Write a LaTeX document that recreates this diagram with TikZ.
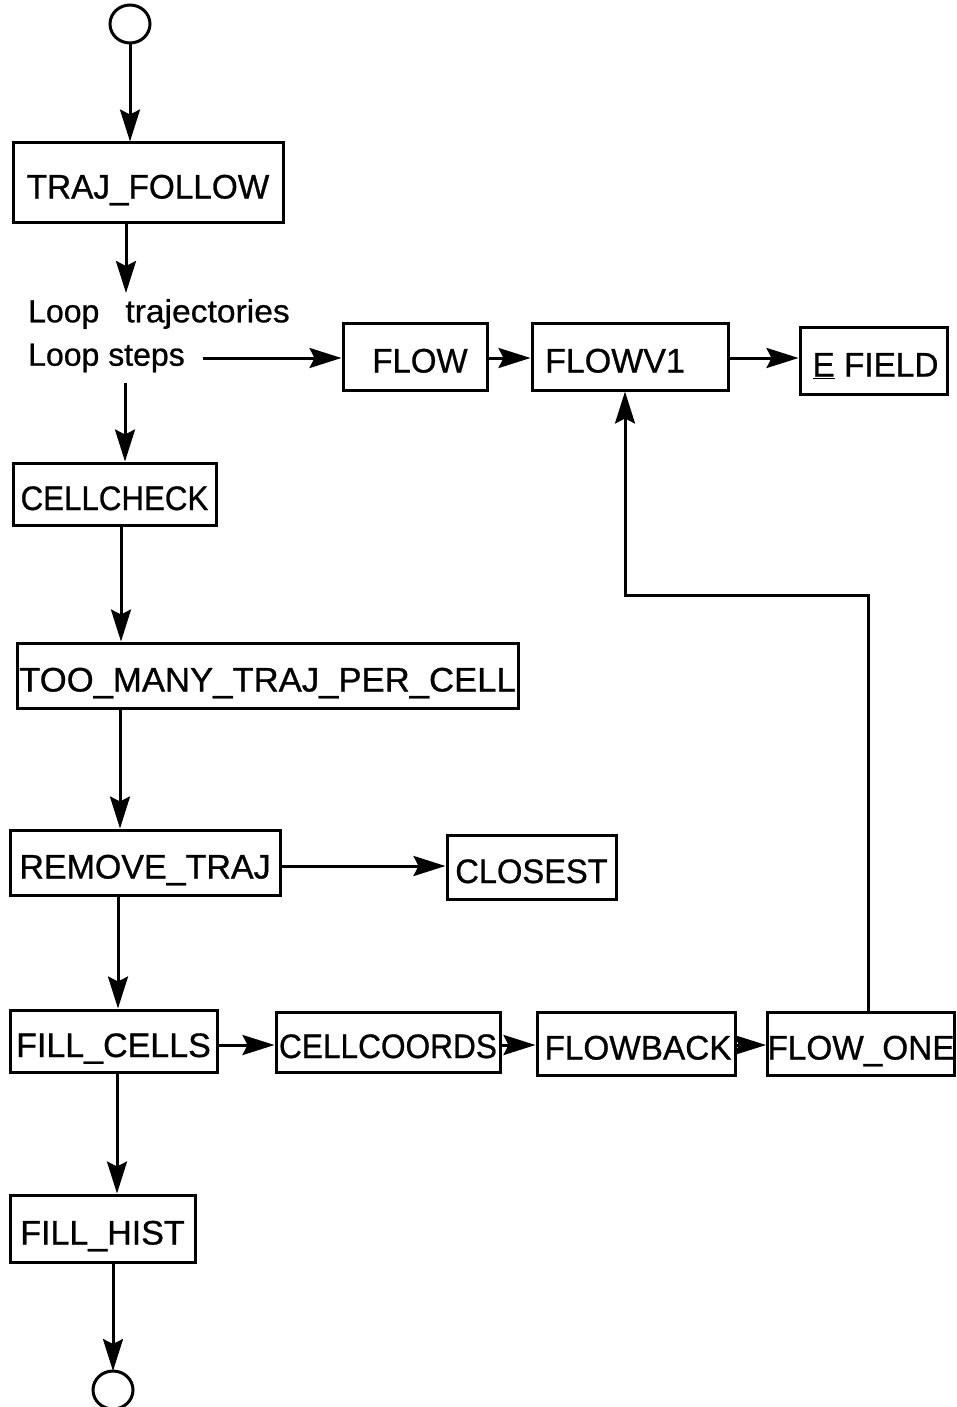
\documentclass[tikz,border=0pt]{standalone}
\usepackage{fontspec}
\setmainfont{Liberation Sans}[FakeBold=0.8]
\usetikzlibrary{arrows.meta}
\begin{document}
\begin{tikzpicture}[x=1pt,y=-1pt,
  box/.style={draw, line width=3pt, inner sep=0pt, text height=32pt, text depth=0pt, font=\fontsize{34}{36}\selectfont},
  lbl/.style={inner sep=4pt, font=\fontsize{32}{34}\selectfont},
  arr/.style={line width=3pt, -{Stealth[length=32pt,width=20pt,inset=5pt]}}]
\useasboundingbox (0,0) rectangle (956,1407);
% terminals
\draw[line width=3pt] (130,24) ellipse (20 and 19);
\coordinate (st) at (130,43);
\draw[line width=3pt] (113,1390) ellipse (20 and 19);
\coordinate (en) at (113,1371);
% boxes
\node[box, minimum width=270pt, minimum height=79pt] (tf) at (148,182.5) {\scalebox{0.98}[1]{TRAJ\_FOLLOW}};
\node[box, minimum width=144pt, minimum height=67pt] (fl) at (415,356.5) {\hspace*{10pt}\scalebox{0.97}[1]{FLOW}};
\node[box, minimum width=196pt, minimum height=67pt] (fv) at (630,356.5) {\hspace*{-30pt}FLOWV1};
\node[box, minimum width=147pt, minimum height=67pt] (ef) at (873.5,360.5) {\hspace*{4pt}\scalebox{0.98}[1]{\underline{E} FIELD}};
\node[box, minimum width=203pt, minimum height=62pt] (cc) at (114.5,494) {\scalebox{0.92}[1]{CELLCHECK}};
\node[box, minimum width=501pt, minimum height=65pt] (tm) at (267.5,675.5) {\scalebox{1.02}[1]{TOO\_MANY\_TRAJ\_PER\_CELL}};
\node[box, minimum width=270pt, minimum height=65pt] (rt) at (145,862.5) {REMOVE\_TRAJ};
\node[box, minimum width=169pt, minimum height=64pt] (cl) at (531.5,867) {\scalebox{0.96}[1]{CLOSEST}};
\node[box, minimum width=207pt, minimum height=62pt] (fc) at (113.5,1041) {FILL\_CELLS};
\node[box, minimum width=224pt, minimum height=60pt] (co) at (388,1042) {\scalebox{0.93}[1]{CELLCOORDS}};
\node[box, minimum width=198pt, minimum height=63pt] (fb) at (636,1043.5) {\hspace*{4pt}\scalebox{0.98}[1]{FLOWBACK}};
\node[box, minimum width=186pt, minimum height=63pt] (fo) at (861,1043.5) {\scalebox{0.98}[1]{FLOW\_ONE}};
\node[box, minimum width=185pt, minimum height=67pt] (fh) at (102.5,1228.5) {FILL\_HIST};
% loop labels
\node[lbl, anchor=west] (lt) at (24,314) {Loop\hspace{26pt}\scalebox{1.05}[1]{trajectories}};
\node[lbl, anchor=west] (ls) at (24,358) {Loop steps};
\coordinate (lb) at (125,383);
% connectors
\draw[arr] (st) -- (st |- tf.north);
\draw[arr] (tf.south -| 126,0) -- (126,293);
\draw[arr] (203,358) -- (fl.west |- 0,358);
\draw[arr] (fl.east |- 0,358) -- (fv.west |- 0,358);
\draw[arr] (fv.east |- 0,358) -- (ef.west |- 0,358);
\draw[arr] (lb) -- (lb |- cc.north);
\draw[arr] (cc.south -| 121,0) -- (tm.north -| 121,0);
\draw[arr] (tm.south -| 120,0) -- (rt.north -| 120,0);
\draw[arr] (rt.east |- 0,866) -- (cl.west |- 0,866);
\draw[arr] (rt.south -| 118,0) -- (fc.north -| 118,0);
\draw[arr] (fc.east |- 0,1045) -- (co.west |- 0,1045);
\draw[arr] (co.east |- 0,1045) -- (fb.west |- 0,1045);
\draw[arr] (fb.east |- 0,1045) -- (fo.west |- 0,1045);
\coordinate (k1) at (868,595);
\coordinate (k2) at (625,595);
\draw[arr] (k1 |- fo.north) -- (k1) -- (k2) -- (k2 |- fv.south);
\draw[arr] (fc.south -| 117,0) -- (fh.north -| 117,0);
\draw[arr] (fh.south -| en) -- (en);
\end{tikzpicture}
\end{document}
